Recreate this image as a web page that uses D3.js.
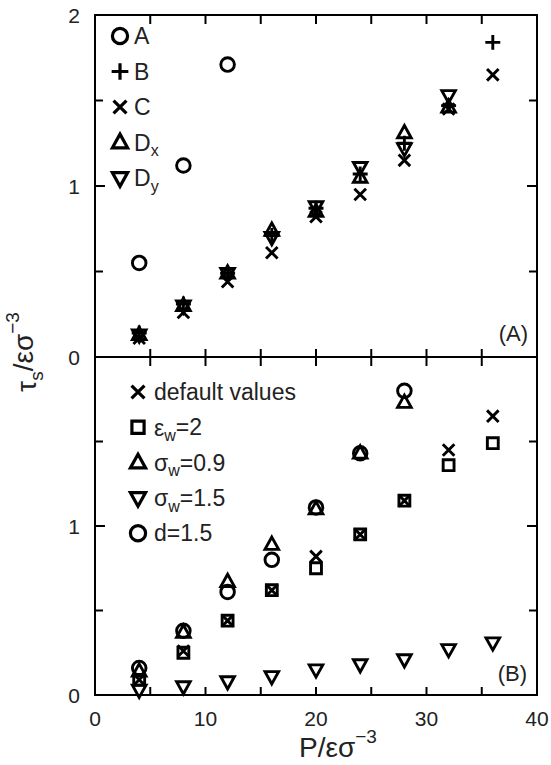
<!DOCTYPE html>
<html>
<head>
<meta charset="utf-8">
<script src="https://cdn.jsdelivr.net/npm/d3@7"></script>
<style>
  body { margin: 0; background: #fff; }
  text { font-family: "Liberation Sans", Arial, sans-serif; fill: #222; }
</style>
</head>
<body>
<div id="chart"></div>
<script>
// Abscisses communes
const pressures = [4, 8, 12, 16, 20, 24, 28, 32, 36];

// Panneau (A)
const seriesA_y = [0.55, 1.12, 1.71];
const seriesB_y = [0.14, 0.31, 0.49, 0.71, 0.87, 1.07, 1.25, 1.47, 1.84];
const seriesC_y = [0.11, 0.26, 0.44, 0.61, 0.82, 0.95, 1.15, 1.45, 1.65];
const seriesDx_y = [0.13, 0.30, 0.49, 0.74, 0.85, 1.05, 1.31, 1.46];
const seriesDy_y = [0.13, 0.30, 0.49, 0.70, 0.88, 1.11, 1.22, 1.53];

// Panneau (B)
const defaultVals_y = [0.09, 0.26, 0.44, 0.62, 0.82, 0.95, 1.15, 1.45, 1.65];
const epsW2_y = [0.09, 0.25, 0.44, 0.62, 0.75, 0.95, 1.15, 1.36, 1.49];
const sigW09_y = [0.14, 0.37, 0.67, 0.89, 1.10, 1.43, 1.73];
const sigW15_y = [0.03, 0.05, 0.08, 0.11, 0.15, 0.18, 0.21, 0.27, 0.31];
const d15_y = [0.16, 0.38, 0.61, 0.80, 1.11, 1.43, 1.80];

const xTicks = [0, 10, 20, 30, 40];
const yTicks = [0, 1, 2];

const W = 551, H = 765;
const left = 95, right = 537;
const topA = 15, midY = 357, botB = 695;

const svg = d3.select("#chart").append("svg")
    .attr("width", W).attr("height", H);

const x = d3.scaleLinear().domain([0, 40]).range([left, right]);
const yA = d3.scaleLinear().domain([0, 2]).range([midY, topA]);
const yB = d3.scaleLinear().domain([0, 2]).range([botB, midY]);

// Formes des marqueurs (traits, sans remplissage)
function markerPath(type, r) {
    const p = d3.path();
    if (type === "circle") {
        p.arc(0, 0, r, 0, 2 * Math.PI);
    } else if (type === "plus") {
        p.moveTo(-r * 1.1, 0); p.lineTo(r * 1.1, 0);
        p.moveTo(0, -r * 1.1); p.lineTo(0, r * 1.1);
    } else if (type === "times") {
        const k = r * 0.85;
        p.moveTo(-k, -k); p.lineTo(k, k);
        p.moveTo(-k, k); p.lineTo(k, -k);
    } else if (type === "up") {
        p.moveTo(0, -r * 1.1); p.lineTo(r, r * 0.7); p.lineTo(-r, r * 0.7); p.closePath();
    } else if (type === "down") {
        p.moveTo(0, r * 1.1); p.lineTo(r, -r * 0.7); p.lineTo(-r, -r * 0.7); p.closePath();
    } else if (type === "square") {
        p.rect(-r * 0.8, -r * 0.8, r * 1.6, r * 1.6);
    }
    return p.toString();
}

function drawSeries(g, yScale, ys, type) {
    const pts = ys.map((v, i) => ({ x: pressures[i], y: v }));
    g.selectAll(null).data(pts).enter().append("path")
        .attr("transform", d => `translate(${x(d.x)},${yScale(d.y)})`)
        .attr("d", markerPath(type, 6.8))
        .attr("fill", "none")
        .attr("stroke", "#000")
        .attr("stroke-width", 2.9);
}

function drawLegend(g, items, mx, tx, y0, dy) {
    items.forEach((it, i) => {
        const yy = y0 + i * dy;
        g.append("path")
            .attr("transform", `translate(${mx},${yy})`)
            .attr("d", markerPath(it.type, 7.6))
            .attr("fill", "none").attr("stroke", "#000").attr("stroke-width", 3.2);
        const t = g.append("text")
            .attr("x", tx).attr("y", yy)
            .attr("dy", "0.36em")
            .attr("font-size", "23px");
        it.parts.forEach(pt => {
            const ts = t.append("tspan").text(pt.t);
            if (pt.sub) ts.attr("font-size", "16px").attr("dy", "0.35em");
            if (pt.after) ts.attr("dy", "-0.25em");
        });
    });
}

// Cadre + graduations
function frameTicks(yScale, y0, y1, showTopTicks) {
    const g = svg.append("g");
    const xt = d3.range(5, 40, 5);
    xt.forEach(v => {
        g.append("line").attr("x1", x(v)).attr("x2", x(v))
            .attr("y1", y0).attr("y2", y0 - 8)
            .attr("stroke", "#000").attr("stroke-width", 2);
        if (showTopTicks) {
            g.append("line").attr("x1", x(v)).attr("x2", x(v))
                .attr("y1", y1).attr("y2", y1 + 9)
                .attr("stroke", "#000").attr("stroke-width", 2);
        }
    });
    [0.5, 1, 1.5].forEach(v => {
        const len = v === 1 ? 10 : 8;
        g.append("line").attr("x1", left).attr("x2", left + len)
            .attr("y1", yScale(v)).attr("y2", yScale(v))
            .attr("stroke", "#000").attr("stroke-width", 2);
        g.append("line").attr("x1", right).attr("x2", right - len)
            .attr("y1", yScale(v)).attr("y2", yScale(v))
            .attr("stroke", "#000").attr("stroke-width", 2);
    });
    g.append("rect").attr("x", left).attr("y", y1)
        .attr("width", right - left).attr("height", y0 - y1)
        .attr("fill", "none").attr("stroke", "#000").attr("stroke-width", 2);
}

frameTicks(yA, midY, topA, true);
frameTicks(yB, botB, midY, true);

// Étiquettes axe y
[[yA, [0, 1, 2]], [yB, [0, 1]]].forEach(([sc, vals]) => {
    vals.forEach(v => {
        svg.append("text")
            .attr("x", 80).attr("y", sc(v))
            .attr("dy", "0.36em")
            .attr("text-anchor", "end")
            .attr("font-size", "21px")
            .attr("fill", "#333")
            .text(yTicks[v]);
    });
});

// Étiquettes axe x
xTicks.forEach(v => {
    svg.append("text")
        .attr("x", x(v)).attr("y", 718)
        .attr("dy", "0.36em")
        .attr("text-anchor", "middle")
        .attr("font-size", "21px")
        .attr("fill", "#333")
        .text(v);
});

// Titres des axes
const xl = svg.append("text")
    .attr("x", 338).attr("y", 757)
    .attr("text-anchor", "middle")
    .attr("font-size", "28px");
xl.append("tspan").text("P/εσ");
xl.append("tspan").attr("font-size", "19px").attr("dy", "-0.75em").text("−3");

const yl = svg.append("text")
    .attr("transform", "translate(36,352) rotate(-90)")
    .attr("text-anchor", "middle")
    .attr("font-size", "28px");
yl.append("tspan").text("τ");
yl.append("tspan").attr("font-size", "19px").attr("dy", "0.35em").text("s");
yl.append("tspan").attr("dy", "-0.35em").text("/εσ");
yl.append("tspan").attr("font-size", "19px").attr("dy", "-0.75em").text("−3");

// Panneau (A)
const gA = svg.append("g");
drawSeries(gA, yA, seriesDx_y, "up");
drawSeries(gA, yA, seriesDy_y, "down");
drawSeries(gA, yA, seriesC_y, "times");
drawSeries(gA, yA, seriesB_y, "plus");
drawSeries(gA, yA, seriesA_y, "circle");

drawLegend(gA, [
    { type: "circle", parts: [{ t: "A" }] },
    { type: "plus", parts: [{ t: "B" }] },
    { type: "times", parts: [{ t: "C" }] },
    { type: "up", parts: [{ t: "D" }, { t: "x", sub: true }] },
    { type: "down", parts: [{ t: "D" }, { t: "y", sub: true }] }
], 120, 134, 36, 35.5);

svg.append("text").attr("x", 528).attr("y", 333)
    .attr("dy", "0.36em").attr("text-anchor", "end")
    .attr("font-size", "22px").attr("fill", "#333").text("(A)");

// Panneau (B)
const gB = svg.append("g");
drawSeries(gB, yB, epsW2_y, "square");
drawSeries(gB, yB, defaultVals_y, "times");
drawSeries(gB, yB, sigW09_y, "up");
drawSeries(gB, yB, sigW15_y, "down");
drawSeries(gB, yB, d15_y, "circle");

drawLegend(gB, [
    { type: "times", parts: [{ t: "default values" }] },
    { type: "square", parts: [{ t: "ε" }, { t: "w", sub: true }, { t: "=2", after: true }] },
    { type: "up", parts: [{ t: "σ" }, { t: "w", sub: true }, { t: "=0.9", after: true }] },
    { type: "down", parts: [{ t: "σ" }, { t: "w", sub: true }, { t: "=1.5", after: true }] },
    { type: "circle", parts: [{ t: "d=1.5" }] }
], 138, 154, 392, 35.3);

svg.append("text").attr("x", 527).attr("y", 673)
    .attr("dy", "0.36em").attr("text-anchor", "end")
    .attr("font-size", "22px").attr("fill", "#333").text("(B)");
</script>
</body>
</html>
